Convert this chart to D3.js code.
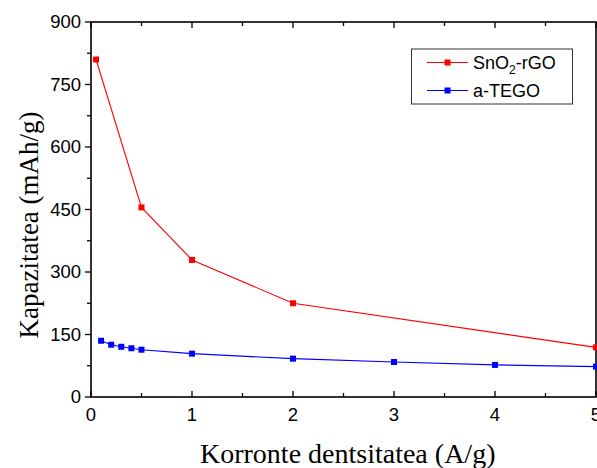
<!DOCTYPE html>
<html><head><meta charset="utf-8">
<script src="https://cdn.jsdelivr.net/npm/d3@7"></script>
<style>body{margin:0;background:#fff}svg{display:block}</style>
</head><body>
<svg id="c" width="597" height="468"></svg>
<script>
const snoX = [0.05, 0.5, 1, 2, 5];
const snoY = [810, 455, 329, 225, 119];
const tegoX = [0.1, 0.2, 0.3, 0.4, 0.5, 1, 2, 3, 4, 5];
const tegoY = [135, 125.5, 120.5, 117, 113.5, 104, 92, 84, 77, 73];
const xTicks = [0, 1, 2, 3, 4, 5];
const yTicks = [0, 150, 300, 450, 600, 750, 900];
const seriesNames = ["SnO2-rGO", "a-TEGO"];
const colors = ["#ff0000", "#0000ff"];

const svg = d3.select("#c");
const L = 91, R = 596, T = 22, B = 397;
const x = d3.scaleLinear().domain([0, 5]).range([L, R]);
const y = d3.scaleLinear().domain([0, 900]).range([B, T]);

const tickFont = "Liberation Sans, Arial, sans-serif";
const titleFont = "Liberation Serif, Times New Roman, serif";

const minorX = d3.range(0, 5.01, 0.5);
const minorY = d3.range(0, 901, 75);

// bottom (ticks in)
svg.append("g").selectAll("line").data(minorX).join("line")
  .attr("x1", d => x(d)).attr("x2", d => x(d))
  .attr("y1", B).attr("y2", d => B - (Number.isInteger(d) ? 6 : 4))
  .attr("stroke", "#000").attr("stroke-width", 1.3);
svg.append("g").selectAll("text").data(xTicks).join("text")
  .attr("x", d => x(d)).attr("y", 421).attr("text-anchor", "middle")
  .attr("font-family", tickFont).attr("font-size", 18.5).text(d => d);

// top (ticks in)
svg.append("g").selectAll("line").data(minorX).join("line")
  .attr("x1", d => x(d)).attr("x2", d => x(d))
  .attr("y1", T).attr("y2", d => T + (Number.isInteger(d) ? 6 : 4))
  .attr("stroke", "#000").attr("stroke-width", 1.3);

// left (ticks out)
const gL = svg.append("g").attr("transform", `translate(${L},0)`)
  .call(d3.axisLeft(y).tickValues(yTicks).tickSize(0).tickPadding(10));
gL.select(".domain").remove();
gL.selectAll("text").attr("font-family", tickFont).attr("font-size", 18.5).attr("fill", "#000");
svg.append("g").selectAll("line").data(minorY).join("line")
  .attr("x1", L).attr("x2", d => L - (d % 150 === 0 ? 6 : 4))
  .attr("y1", d => y(d)).attr("y2", d => y(d))
  .attr("stroke", "#000").attr("stroke-width", 1.3);

// frame
svg.append("rect").attr("x", L).attr("y", T).attr("width", R - L).attr("height", B - T)
  .attr("fill", "none").attr("stroke", "#000").attr("stroke-width", 1.6);

// series
const series = [
  {xs: snoX, ys: snoY, c: colors[0]},
  {xs: tegoX, ys: tegoY, c: colors[1]}
];
const line = d3.line().x(d => x(d[0])).y(d => y(d[1]));
series.forEach(s => {
  const pts = s.xs.map((v, i) => [v, s.ys[i]]);
  svg.append("path").attr("d", line(pts)).attr("fill", "none")
    .attr("stroke", s.c).attr("stroke-width", 1.1);
  svg.append("g").selectAll("rect").data(pts).join("rect")
    .attr("x", d => x(d[0]) - 3).attr("y", d => y(d[1]) - 3)
    .attr("width", 6).attr("height", 6).attr("fill", s.c);
});

// legend
const lg = svg.append("g");
lg.append("rect").attr("x", 411.5).attr("y", 49).attr("width", 161).attr("height", 55)
  .attr("fill", "#fff").attr("stroke", "#333").attr("stroke-width", 1);
[0, 1].forEach(i => {
  const cy = i === 0 ? 62.5 : 90.5;
  lg.append("line").attr("x1", 427).attr("x2", 468).attr("y1", cy).attr("y2", cy)
    .attr("stroke", colors[i]).attr("stroke-width", 1.1);
  lg.append("rect").attr("x", 444.5).attr("y", cy - 3).attr("width", 6).attr("height", 6).attr("fill", colors[i]);
});
const t1 = lg.append("text").attr("x", 473).attr("y", 69)
  .attr("font-family", tickFont).attr("font-size", 18);
t1.append("tspan").text("SnO");
t1.append("tspan").attr("font-size", 12).attr("dy", 5).text("2");
t1.append("tspan").attr("dy", -5).text("-rGO");
lg.append("text").attr("x", 473).attr("y", 97)
  .attr("font-family", tickFont).attr("font-size", 18).text(seriesNames[1]);

// titles
svg.append("text").attr("x", 200).attr("y", 463)
  .attr("font-family", titleFont).attr("font-size", 28)
  .text("Korronte dentsitatea (A/g)");
svg.append("text").attr("transform", "translate(38,225) rotate(-90)").attr("text-anchor", "middle")
  .attr("font-family", titleFont).attr("font-size", 27).text("Kapazitatea (mAh/g)");
</script>
</body></html>
